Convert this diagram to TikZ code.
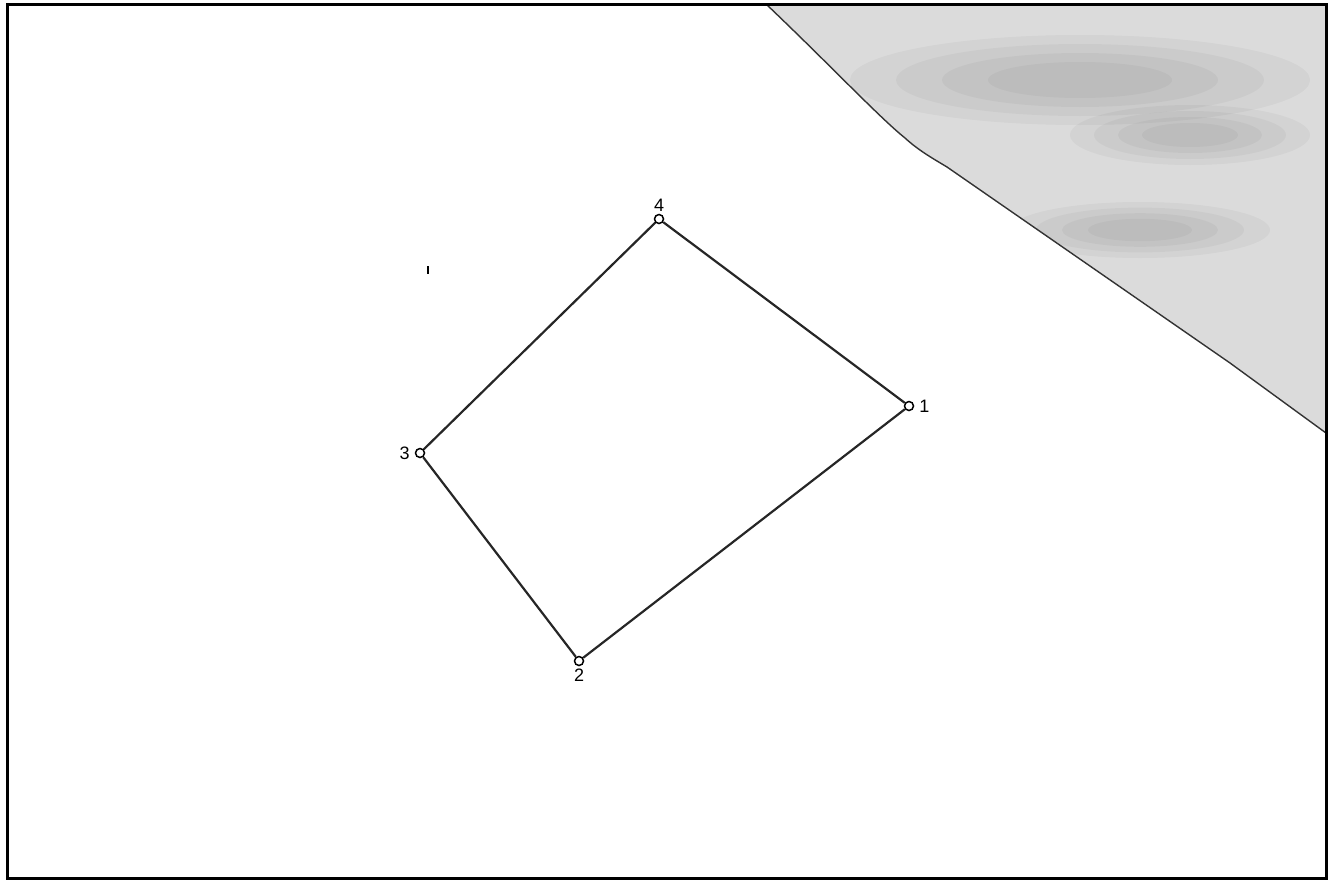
\documentclass[tikz,border=0pt]{standalone}
\usepackage{fontspec}
\setmainfont{Liberation Sans}
\begin{document}
\begin{tikzpicture}[x=1pt,y=-1pt,
  vertex/.style={circle,draw=black,fill=white,line width=1.5pt,inner sep=0pt,minimum size=9pt},
  edge/.style={line width=2.2pt,black!85},
  band/.style={fill=black,opacity=0.035},
  lbl/.style={font=\fontsize{18}{20}\selectfont,inner sep=1pt}]
\useasboundingbox (0,0) rectangle (1333,881);
\def\greyedge{(766,4) .. controls (830,65) and (880,118) .. (905,138)
  .. controls (918,150) and (932,158) .. (947,167)
  -- (1230,363) -- (1326,433)}
% grey area
\fill[black!14] (766,4) .. controls (830,65) and (880,118) .. (905,138)
  .. controls (918,150) and (932,158) .. (947,167)
  -- (1230,363) -- (1326,433) -- (1326,4) -- cycle;
\begin{scope}
\clip (766,4) .. controls (830,65) and (880,118) .. (905,138)
  .. controls (918,150) and (932,158) .. (947,167)
  -- (1230,363) -- (1326,433) -- (1326,4) -- cycle;
\foreach \r in {1,0.8,0.6,0.4}{
  \fill[band] (1080,80) ellipse ({230*\r} and {45*\r});
  \fill[band] (1190,135) ellipse ({120*\r} and {30*\r});
  \fill[band] (1140,230) ellipse ({130*\r} and {28*\r});
}
\end{scope}
\draw[line width=1.4pt,black!80] (766,4) .. controls (830,65) and (880,118) .. (905,138)
  .. controls (918,150) and (932,158) .. (947,167)
  -- (1230,363) -- (1326,433);
% frame
\draw[line width=3pt] (7,4) rectangle (1326,878);
% vertices
\node[vertex] (n1) at (909,406) {};
\node[vertex] (n2) at (579,661) {};
\node[vertex] (n3) at (420,453) {};
\node[vertex] (n4) at (659,219) {};
\draw[edge] (n1) -- (n2);
\draw[edge] (n2) -- (n3);
\draw[edge] (n3) -- (n4);
\draw[edge] (n4) -- (n1);
\node[lbl,right=4pt] (l1) at (n1.east) {1};
\node[lbl,below=1pt] (l2) at (n2.south) {2};
\node[lbl,left=4pt] (l3) at (n3.west) {3};
\node[lbl,above=1pt] (l4) at (n4.north) {4};
% stray mark
\coordinate (m1) at (428,266);
\coordinate (m2) at (428,274);
\draw[line width=2.5pt] (m1) -- (m2);
\end{tikzpicture}
\end{document}
